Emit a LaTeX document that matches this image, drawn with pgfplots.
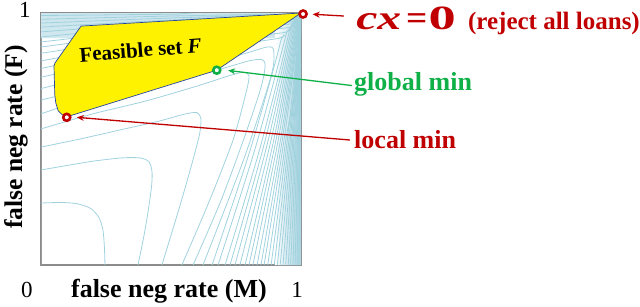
\documentclass[border=0pt]{standalone}
\usepackage{pgfplots}
\pgfplotsset{compat=1.18}
\usepackage{fontspec}
\setmainfont{Liberation Serif}
\usetikzlibrary{arrows.meta}
\definecolor{cont}{RGB}{160,210,222}
\definecolor{shadeb}{RGB}{170,212,226}
\definecolor{dred}{RGB}{192,0,0}
\definecolor{dgreen}{RGB}{16,176,72}
\definecolor{fborder}{RGB}{40,70,160}
\begin{document}
\begin{tikzpicture}
\useasboundingbox (-41pt,-41pt) rectangle (599pt,265pt);
\begin{axis}[
  scale only axis, width=260pt, height=252pt,
  xmin=0, xmax=1, ymin=0, ymax=1,
  xtick=\empty, ytick=\empty,
  axis line style={draw=black!45, line width=1.1pt},
  contour/.style={draw=cont, line width=0.8pt, smooth, tension=0.45, mark=none},
]
% background shading near right edge and top
\addplot[draw=none, left color=white, right color=shadeb] coordinates {(0.9,0) (1,0) (1,1) (0.9,1)} \closedcycle;
\addplot[draw=none, bottom color=white, top color=shadeb!60] coordinates {(0,0.9) (0.9,0.9) (0.9,1) (0,1)} \closedcycle;
% contour lines
\addplot[contour] coordinates {(0,0.246)(0.08,0.248)(0.14,0.243)(0.19,0.225)(0.222,0.19)(0.238,0.14)(0.244,0.07)(0.246,0)};
\addplot[contour] coordinates {(0,0.377)(0.1,0.395)(0.2,0.412)(0.31,0.425)(0.38,0.425)(0.415,0.41)(0.427,0.37)(0.425,0.31)(0.41,0.2)(0.393,0.1)(0.373,0)};
\addplot[contour] coordinates {(0,0.468)(0.15,0.5)(0.3,0.535)(0.45,0.57)(0.55,0.598)(0.6,0.605)(0.615,0.58)(0.61,0.52)(0.58,0.4)(0.53,0.22)(0.465,0)};
\addplot[contour] coordinates {(0,0.54)(0.2,0.6)(0.4,0.65)(0.6,0.71)(0.72,0.75)(0.78,0.765)(0.8,0.75)(0.79,0.69)(0.74,0.5)(0.65,0.26)(0.542,0)};
\addplot[contour] coordinates {(0,0.6)(0.3,0.7)(0.55,0.75)(0.68,0.775)(0.8,0.81)(0.85,0.815)(0.862,0.79)(0.845,0.7)(0.78,0.5)(0.69,0.25)(0.585,0)};
\addplot[contour] coordinates {(0,0.655)(0.4,0.75)(0.75,0.83)(0.87,0.865)(0.895,0.85)(0.885,0.75)(0.78,0.42)(0.623,0)};
\addplot[contour] coordinates {(0,0.70)(0.46,0.817)(0.9,0.897)(0.92,0.88)(0.802,0.448)(0.658,0)};
\addplot[contour] coordinates {(0,0.745)(0.47,0.85)(0.925,0.921)(0.94,0.905)(0.823,0.46)(0.681,0)};
\addplot[contour] coordinates {(0,0.78)(0.478,0.876)(0.943,0.941)(0.955,0.928)(0.844,0.47)(0.708,0)};
\addplot[contour] coordinates {(0,0.81)(0.483,0.897)(0.955,0.956)(0.965,0.945)(0.858,0.478)(0.727,0)};
\addplot[contour] coordinates {(0,0.84)(0.487,0.915)(0.965,0.966)(0.973,0.957)(0.871,0.483)(0.746,0)};
\addplot[contour] coordinates {(0,0.865)(0.49,0.93)(0.972,0.974)(0.979,0.966)(0.883,0.487)(0.765,0)};
\addplot[contour] coordinates {(0,0.885)(0.492,0.941)(0.978,0.98)(0.984,0.973)(0.894,0.49)(0.785,0)};
\addplot[contour] coordinates {(0,0.905)(0.494,0.952)(0.983,0.985)(0.988,0.979)(0.903,0.492)(0.80,0)};
\addplot[contour] coordinates {(0,0.925)(0.496,0.963)(0.987,0.989)(0.991,0.984)(0.912,0.494)(0.815,0)};
\addplot[contour] coordinates {(0,0.944)(0.497,0.972)(0.991,0.992)(0.994,0.988)(0.921,0.496)(0.831,0)};
\addplot[contour] coordinates {(0,0.96)(0.498,0.98)(0.994,0.995)(0.996,0.991)(0.928,0.497)(0.846,0)};
\addplot[contour] coordinates {(0,0.975)(0.499,0.988)(0.997,0.997)(0.998,0.994)(0.935,0.498)(0.858,0)};
\addplot[contour] coordinates {(0,0.99)(0.5,0.995)(0.999,0.999)(0.942,0.499)(0.872,0)};
\addplot[contour] coordinates {(0.885,0)(0.948,0.5)(0.999,0.999)};
\addplot[contour] coordinates {(0.897,0)(0.954,0.5)(0.999,0.999)};
\addplot[contour] coordinates {(0.909,0)(0.959,0.5)(0.999,0.999)};
\addplot[contour] coordinates {(0.92,0)(0.964,0.5)(0.999,0.999)};
\addplot[contour] coordinates {(0.931,0)(0.969,0.5)(0.999,0.999)};
\addplot[contour] coordinates {(0.941,0)(0.973,0.5)(0.999,0.999)};
\addplot[contour] coordinates {(0.951,0)(0.978,0.5)(0.999,0.999)};
\addplot[contour] coordinates {(0.96,0)(0.982,0.5)(0.999,0.999)};
\addplot[contour] coordinates {(0.969,0)(0.986,0.5)(0.999,0.999)};
\addplot[contour] coordinates {(0.977,0)(0.99,0.5)(0.999,0.999)};
\addplot[contour] coordinates {(0.985,0)(0.993,0.5)(0.999,0.999)};
\addplot[contour] coordinates {(0.992,0)(0.996,0.5)(0.999,0.999)};
% feasible set
\addplot[fill=yellow, draw=fborder, line width=0.7pt, mark=none] coordinates {
 (1,1) (0.154,0.948) (0.054,0.802) (0.05,0.79) (0.053,0.675) (0.057,0.643) (0.066,0.612) (0.082,0.596) (0.099,0.588) (0.676,0.773) (1,1)} -- cycle;
\end{axis}
\begin{axis}[
  scale only axis, width=260pt, height=252pt,
  xmin=0, xmax=1, ymin=0, ymax=1,
  hide axis, clip=false,
]
% arrows
\draw[dred, line width=1.3pt, -{Stealth[length=7pt,width=6pt]}] (axis cs:1.165,0.988) -- (axis cs:1.045,0.995);
\draw[dgreen, line width=1.3pt, -{Stealth[length=7pt,width=6pt]}] (axis cs:1.196,0.712) -- (axis cs:0.72,0.772);
\draw[dred, line width=1.3pt, -{Stealth[length=7pt,width=6pt]}] (axis cs:1.188,0.496) -- (axis cs:0.138,0.586);
% markers
\addplot[only marks, mark=*, mark size=3.5pt, mark options={fill=white, draw=dred, line width=2.6pt}] coordinates {(1.008,0.996) (0.099,0.586)};
\addplot[only marks, mark=*, mark size=3.5pt, mark options={fill=white, draw=dgreen, line width=2.6pt}] coordinates {(0.676,0.773)};
% texts
\node[rotate=4.6, anchor=base] at (axis cs:0.385,0.825) {\fontsize{21}{21}\selectfont\bfseries Feasible set \textit{F}};
\node[anchor=base west, inner sep=0pt, text=dred] at (axis cs:1.212,0.935) {\fontsize{34}{34}\selectfont\bfseries\scalebox{1.4}[1]{\textit{cx}}\kern5pt\scalebox{1.1}[1]{=}\kern1pt\scalebox{1.6}[1]{0}};
\node[anchor=base west, inner sep=0pt, text=dred] at (axis cs:1.642,0.935) {\fontsize{25}{25}\selectfont\bfseries(reject all loans)};
\node[anchor=base west, inner sep=0pt, text=dgreen] at (axis cs:1.204,0.694) {\fontsize{26}{26}\selectfont\bfseries global min};
\node[anchor=base west, inner sep=0pt, text=dred] at (axis cs:1.204,0.464) {\fontsize{26}{26}\selectfont\bfseries local min};
\node[anchor=base, inner sep=0pt] at (axis cs:0.492,-0.127) {\fontsize{26}{26}\selectfont\bfseries false neg rate (M)};
\node[anchor=base, inner sep=0pt, rotate=90] at (axis cs:-0.073,0.508) {\fontsize{25.5}{25.5}\selectfont\bfseries false neg rate (F)};
\node[anchor=base, inner sep=0pt] at (axis cs:-0.062,0.984) {\fontsize{23}{23}\selectfont 1};
\node[anchor=base, inner sep=0pt] at (axis cs:-0.054,-0.127) {\fontsize{23}{23}\selectfont 0};
\node[anchor=base, inner sep=0pt] at (axis cs:0.985,-0.127) {\fontsize{23}{23}\selectfont 1};
\end{axis}
\end{tikzpicture}
\end{document}
